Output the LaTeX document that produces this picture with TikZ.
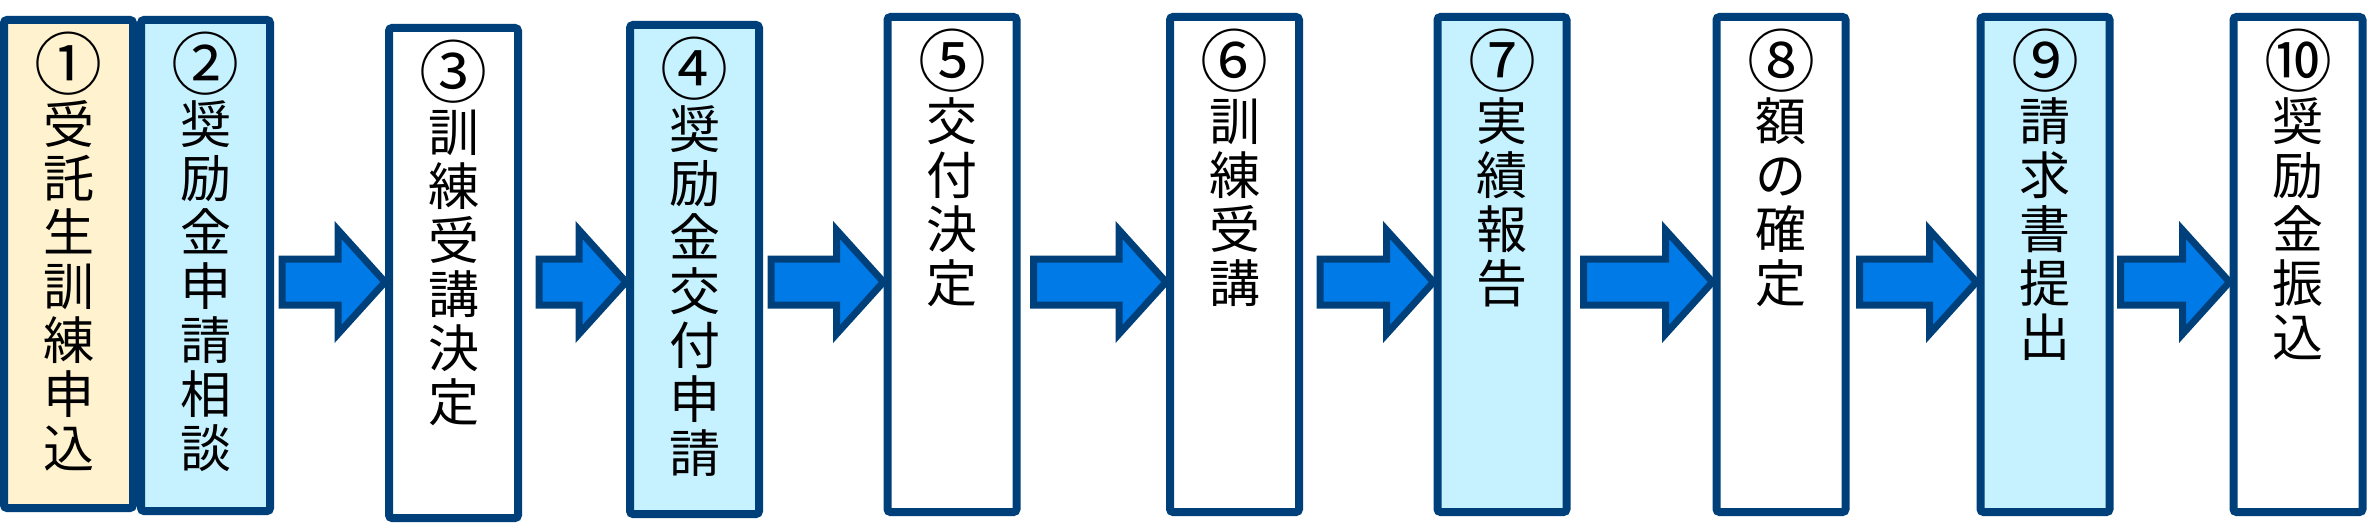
\documentclass[tikz,border=0pt]{standalone}
\usepackage{fontspec}
\newfontfamily\jpfont{Noto Sans CJK JP}
\usepackage{tikz}
\usetikzlibrary{calc}
\usetikzlibrary{positioning}

\definecolor{boxline}{RGB}{0,64,122}
\definecolor{cream}{RGB}{255,242,206}
\definecolor{paleblue}{RGB}{198,241,255}
\definecolor{arrowblue}{RGB}{0,122,230}

% bigger circled step number
\newcommand\stepno[1]{{\fontsize{34}{27}\selectfont #1}\\}

\begin{document}
\begin{tikzpicture}
		[x=1pt,y=1pt,
		stepbox/.style={draw=boxline,line width=4pt,rounded corners=1.5pt,minimum width=64.5pt,inner sep=0pt},
		steptext/.style={inner sep=0pt,align=center,font=\jpfont\fontsize{25.5}{27}\selectfont},
		flowarrow/.style={draw=boxline,line width=3.5pt,fill=arrowblue,line join=miter}]
		\useasboundingbox (0,0) rectangle (1183.5,263);
		
		\node[stepbox,fill=cream,minimum height=244pt] (s1) at (34.25,131) {};
		\node[stepbox,fill=paleblue,minimum height=245.5pt] (s2) at (102.75,130.25) {};
		\node[stepbox,fill=white,minimum height=245pt] (s3) at (226.75,126.5) {};
		\node[stepbox,fill=paleblue,minimum height=244.5pt] (s4) at (347.25,128.25) {};
		\node[stepbox,fill=white,minimum height=247.5pt] (s5) at (476,130.75) {};
		\node[stepbox,fill=white,minimum height=247.5pt] (s6) at (617.25,130.75) {};
		\node[stepbox,fill=paleblue,minimum height=247.5pt] (s7) at (751,130.75) {};
		\node[stepbox,fill=white,minimum height=247.5pt] (s8) at (890.5,130.75) {};
		\node[stepbox,fill=paleblue,minimum height=247.5pt] (s9) at (1022.5,130.75) {};
		\node[stepbox,fill=white,minimum height=247.5pt] (s10) at (1149,130.75) {};
		
		\node[steptext,below=8pt of s1.north] (t1) {\stepno{①}受\\託\\生\\訓\\練\\申\\込};
		\node[steptext,below=8pt of s2.north] (t2) {\stepno{②}奨\\励\\金\\申\\請\\相\\談};
		\node[steptext,below=8pt of s3.north] (t3) {\stepno{③}訓\\練\\受\\講\\決\\定};
		\node[steptext,below=8pt of s4.north] (t4) {\stepno{④}奨\\励\\金\\交\\付\\申\\請};
		\node[steptext,below=8pt of s5.north] (t5) {\stepno{⑤}交\\付\\決\\定};
		\node[steptext,below=8pt of s6.north] (t6) {\stepno{⑥}訓\\練\\受\\講};
		\node[steptext,below=8pt of s7.north] (t7) {\stepno{⑦}実\\績\\報\\告};
		\node[steptext,below=8pt of s8.north] (t8) {\stepno{⑧}額\\の\\確\\定};
		\node[steptext,below=8pt of s9.north] (t9) {\stepno{⑨}請\\求\\書\\提\\出};
		\node[steptext,below=8pt of s10.north] (t10) {\stepno{⑩}奨\\励\\金\\振\\込};
		
		\foreach \from/\to/\gap in 
		{s2/s3/4, s3/s4/8.5, s4/s5/4, s5/s6/6.5, s6/s7/8.5, s7/s8/6.5, s8/s9/5, s9/s10/3.5}
		\draw[flowarrow] let \p1=(\from.east), \p2=(\to.west) in
		(\x1+\gap,133.5) -- (\x2-23.5,133.5) -- (\x2-23.5,148) -- (\x2,122)
		-- (\x2-23.5,96) -- (\x2-23.5,110.5) -- (\x1+\gap,110.5) -- cycle;
		\end{tikzpicture}
\end{document}
